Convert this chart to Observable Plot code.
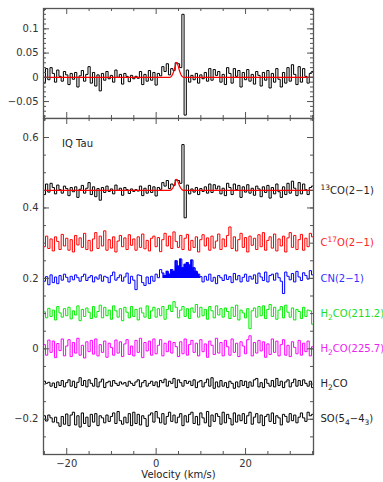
<!DOCTYPE html>
<html><head><meta charset="utf-8">
<script src="https://cdn.jsdelivr.net/npm/d3@7"></script>
<script src="https://cdn.jsdelivr.net/npm/@observablehq/plot@0.6"></script>
<style>
body{margin:0;background:#fff;}
#wrap{position:relative;width:383px;height:482px;overflow:hidden;}
#wrap svg{position:absolute;left:0;background:transparent;}
</style></head><body><div id="wrap"></div><script>
// Channel grid (km/s)
const velocityStart = -25;
const channelWidth = 0.5;

// Spectra, in mK (antenna temperature * 1000), one value per channel
const co13 = [
 -12, 18, -5, 20, 8, -10, 15, 2, -8, 12,
 5, -15, 8, -4, 10, -20, 3, 14, -8, 6,
 22, -12, 10, -18, 5, -28, 8, -6, 12, -3,
 4, -10, 15, 0, 6, -14, 8, 2, -9, 4,
 -3, 2, -2, 12, -15, 6, -8, 14, -6, 10,
 -16, 8, 3, 22, 12, 28, 5, 18, 14, 30,
 28, 20, 130, -78, 15, -10, 4, -5, 8, -12,
 5, -3, 10, -8, 18, -6, 16, 4, 12, -10,
 6, -15, 20, 8, -12, 18, 2, 14, -20, 10,
 -5, 16, -8, 6, -14, 12, 4, -18, 10, -6,
 14, -22, 8, -10, 18, -4, -20, 10, -12, 20,
 -8, 26, 6, -15, 22, -10, 18, 2, -12, 8,
 12];
const c17o = [
 -10, 20, -15, 12, -22, 18, 5, -18, 25, -8,
 14, -20, 10, -25, 22, -5, 15, -12, 28, -18,
 8, -22, 12, 30, -15, 20, -8, 35, -20, 10,
 -14, 18, -25, 6, 22, -10, 15, -18, 24, -6,
 12, -20, 18, -12, 26, -16, 8, -22, 14, 20,
 -10, 16, -24, 10, 28, -8, 20, -15, 32, 5,
 -12, 22, -18, 14, 25, -20, 8, -12, 18, -25,
 10, 24, -8, 15, -20, 20, -14, 6, 26, -18,
 12, -10, 22, 46, -15, 18, -22, 10, 28, -12,
 16, -25, 20, -6, 14, -18, 24, -10, 30, -20,
 8, 18, -14, 26, -22, 12, -8, 20, -25, 15,
 30, -12, 22, -18, 10, 25, -20, 14, -10, 28,
 18];
const cn = [
 -8, 5, -18, 10, -12, 4, -15, 8, -5, 12,
 3, -10, 6, -4, 10, 2, -8, 5, 12, -6,
 3, 8, -10, 4, -2, 10, -8, 6, 3, -12,
 8, 18, -5, 2, 10, -8, 4, 15, -14, 6,
 -5, -32, 10, 8, -12, -20, 4, -15, 6, -8,
 12, 2, 25, 15, 8, 20, 12, 25, 20, 50,
 35, 55, 30, 40, 45, 38, 52, 30, 20, 12,
 5, -10, 6, -5, 12, -8, 3, -15, 8, 2,
 -6, 10, -3, 5, -12, 14, -4, 8, -10, 3,
 12, -8, 6, -2, 10, -14, 15, 4, -6, 18,
 -10, 8, 12, -5, 15, 2, -8, -43, 18, 6,
 -4, 14, -10, 20, 4, -6, 16, 8, -2, 22,
 10];
const h2co211 = [
 5, -12, 15, -8, 10, -18, 20, 2, -10, 14,
 -6, 18, -15, 8, -4, 22, -20, 12, -8, 16,
 4, -14, 20, -10, 6, 24, -12, 18, -6, 10,
 -16, 22, 8, -10, 14, -20, 18, 4, -12, 20,
 -8, 12, -18, 16, 2, -10, 22, -14, 8, 18,
 -10, 14, -6, 20, -16, 12, 24, 6, 34, 18,
 -12, 10, 20, -8, 14, -14, 16, 4, 26, -10,
 18, -6, 12, -16, 20, 8, -12, 22, -4, 14,
 -10, 16, 6, -14, 18, -8, 24, -18, 10, 2,
 -12, 14, -43, 8, 16, -10, 20, -6, 22, -14,
 12, 26, -8, 18, -16, 10, 20, -12, 24, 4,
 -10, 16, -18, 12, 6, -14, 18, -8, 10, 8,
 -30];
const h2co225 = [
 12, -18, 25, -10, 22, -25, 15, -5, 28, -20,
 8, 26, -22, 18, -12, 30, -18, 10, -26, 20,
 -8, 24, -15, 28, -20, 12, -10, 22, -24, 16,
 4, -18, 25, -12, 20, -22, 14, 26, -16, 8,
 -20, 24, -10, 30, -25, 18, -6, 22, -18, 28,
 -14, 10, 26, -20, 16, -8, 22, -12, 18, 6,
 -22, 20, -14, 28, -18, 12, 24, -10, 16, -20,
 26, -8, 14, -24, 22, 10, -16, 30, -12, 18,
 -20, 24, 6, -18, 28, -10, 16, -22, 20, 8,
 -14, 26, 37, -20, 18, -12, 24, -6, 20, -24,
 14, -16, 28, -10, 22, -20, 12, 26, -18, 10,
 -22, 20, 4, -14, 24, -18, 16, -8, 22, -20,
 6];
const h2co = [
 8, 2, 5, -6, 3, -10, 6, -4, 10, -8,
 4, 12, -6, 8, -10, 5, 18, -4, 10, -8,
 12, 2, -6, 16, -8, 6, 14, -10, 4, 8,
 -6, 10, 2, -4, 6, 0, 4, -6, 8, 2,
 -4, 6, 12, -8, 4, 10, -6, 2, 8, -4,
 6, -8, 10, 4, 14, -6, 8, 2, 16, -10,
 12, 4, -6, 10, 2, 8, -4, 12, -10, 6,
 10, -8, 4, 14, -6, 18, -12, 6, -8, 10,
 -6, 4, -10, 8, 2, -12, 6, -8, 10, -4,
 8, -10, 6, -6, 12, 16, -8, 4, -10, 14,
 2, -6, 10, -8, 16, -4, 8, -10, 6, 12,
 -8, 4, 14, -6, 10, -4, 12, 2, -6, 8,
 -10];
const so = [
 10, -5, 12, 4, -8, 6, -10, -20, 8, -14,
 15, -18, 12, 20, -16, 10, -22, 18, -12, 6,
 -20, 14, -8, 16, -18, 10, 4, -10, 12, -6,
 8, 18, -12, 22, -4, -14, 6, -10, 16, -18,
 20, -12, 14, -16, 10, 2, -20, 12, 18, -8,
 22, 4, -10, 16, -14, 8, 20, -6, 12, -10,
 6, 16, -18, 10, -8, 14, 20, -12, 8, -16,
 18, 4, -10, 22, -20, 12, -6, 16, 8, -14,
 20, -10, 14, 2, -16, 18, -8, 12, -4, 16,
 -12, 10, 20, -14, 6, 16, -10, 12, -18, 8,
 14, -6, 18, -12, 10, 4, -16, 14, 8, -8,
 16, -4, 12, -10, 6, 18, 4, -6, 20, 10,
 14];

// Gaussian fit to the 13CO line (km/s, K)
const modelV = [-25, 3.0, 3.5, 4.0, 4.3, 4.6, 4.9, 5.2, 5.7, 6.2, 35];
const modelT = [0, 0, 0.003, 0.014, 0.024, 0.031, 0.024, 0.014, 0.003, 0, 0];

// CN emission range that is shaded (km/s)
const cnFillRange = [1.5, 10];

// Spectrum names, vertical offsets (K), colours
const names   = ["\u00b9\u00b3CO(2\u22121)", "C\u00b9\u2077O(2\u22121)", "CN(2\u22121)", "H\u2082CO(211.2)", "H\u2082CO(225.7)", "H\u2082CO", "SO(5\u2084\u22124\u2083)"];
const series  = [co13, c17o, cn, h2co211, h2co225, h2co, so];
const offsets = [0.45, 0.30, 0.2, 0.1, 0, -0.1, -0.2];
const colors  = ["#000", "#ff0000", "#0000ff", "#00ee00", "#ff00ff", "#000", "#000"];
const labelColors = ["#222", "#ff2020", "#3030ff", "#20dd20", "#ee22ee", "#222", "#222"];

// Axis ticks
const xMajor = [-20, 0, 20];
const xMinor = [-25, -15, -10, -5, 5, 10, 15, 25, 30, 35];
const topYMajor = [-0.05, 0, 0.05, 0.1];
const botYMajor = [-0.2, 0, 0.2, 0.4, 0.6];

// ---------------------------------------------------------------
const xDomain = [-25.2, 35.2];
const W = 383, ML = 43, MR = 70;
const innerW = W - ML - MR;
const axisColor = "#555";
const fontStyle = {fontFamily: "DejaVu Sans, sans-serif", fontSize: "10px", color: "#333", background: "transparent"};
const fmt = d => String(d).replace("-", "\u2212");

function vel(i) { return velocityStart + i * channelWidth; }
function rowsOf(values, offset) { return values.map((t, i) => ({v: vel(i), y: offset + t / 1000})); }

function frameTicks(innerH, yMaj, yMin) {
  return [
    Plot.tickX(xMinor, {x: d => d, insetTop: innerH - 3, stroke: axisColor}),
    Plot.tickX(xMajor, {x: d => d, insetTop: innerH - 6, stroke: axisColor}),
    Plot.tickX(xMinor, {x: d => d, insetBottom: innerH - 3, stroke: axisColor}),
    Plot.tickX(xMajor, {x: d => d, insetBottom: innerH - 6, stroke: axisColor}),
    Plot.tickY(yMin, {y: d => d, insetRight: innerW - 3, stroke: axisColor}),
    Plot.tickY(yMaj, {y: d => d, insetRight: innerW - 6, stroke: axisColor}),
    Plot.tickY(yMin, {y: d => d, insetLeft: innerW - 3, stroke: axisColor}),
    Plot.tickY(yMaj, {y: d => d, insetLeft: innerW - 6, stroke: axisColor})
  ];
}

// Top panel
const topH = 119, topMT = 8, topMB = 1;
const topYMinor = d3.range(-8, 15).map(d => d / 100);
const topPlot = Plot.plot({
  width: W, height: topH, marginTop: topMT, marginBottom: topMB, marginLeft: ML, marginRight: MR,
  style: fontStyle,
  x: {domain: xDomain, axis: null},
  y: {domain: [-0.085, 0.142], axis: null},
  marks: [
    Plot.lineY(rowsOf(co13, 0), {x: "v", y: "y", curve: "step", stroke: "#000", strokeWidth: 1}),
    Plot.line(modelV.map((v, i) => ({v, y: modelT[i]})), {x: "v", y: "y", curve: "monotone-x", stroke: "#ff0000", strokeWidth: 1.2}),
    ...frameTicks(topH - topMT - topMB, topYMajor, topYMinor),
    Plot.axisY({ticks: topYMajor, tickSize: 0, tickPadding: 5, tickFormat: fmt, label: null}),
    Plot.frame({stroke: axisColor, strokeWidth: 1.3})
  ]
});

// Bottom panel
const botTop = 117, botH = 365, botMT = 1, botMB = 28;
const botYMinor = d3.range(-6, 14).map(d => d * 0.05);
const botMarks = [];
series.forEach((vals, k) => {
  const rows = rowsOf(vals, offsets[k]);
  if (k === 2) {
    botMarks.push(Plot.areaY(rows.filter(r => r.v >= cnFillRange[0] && r.v <= cnFillRange[1]),
      {x: "v", y1: offsets[k], y2: "y", curve: "step", fill: colors[k]}));
  }
  botMarks.push(Plot.lineY(rows, {x: "v", y: "y", curve: "step", stroke: colors[k], strokeWidth: 1}));
  if (k === 0) {
    botMarks.push(Plot.line(modelV.map((v, i) => ({v, y: offsets[0] + modelT[i]})), {x: "v", y: "y", curve: "monotone-x", stroke: "#ff0000", strokeWidth: 1.2}));
  }
});
const labelRows = names.map((n, k) => ({n, y: offsets[k], c: labelColors[k]}));
const botPlot = Plot.plot({
  width: W, height: botH, marginTop: botMT, marginBottom: botMB, marginLeft: ML, marginRight: MR,
  style: fontStyle,
  x: {domain: xDomain, axis: null},
  y: {domain: [-0.3, 0.654], axis: null},
  marks: [
    ...botMarks,
    ...frameTicks(botH - botMT - botMB, botYMajor, botYMinor),
    Plot.axisY({ticks: botYMajor, tickSize: 0, tickPadding: 5, tickFormat: fmt, label: null}),
    Plot.axisX({ticks: xMajor, tickSize: 0, tickPadding: 5, tickFormat: fmt, label: null}),
    Plot.text(labelRows, {frameAnchor: "right", y: "y", text: "n", fill: "c", dx: 7, textAnchor: "start"}),
    Plot.text(["IQ Tau"], {x: -21.05, y: 0.581, text: d => d, textAnchor: "start", fill: "#222"}),
    Plot.text(["Velocity (km/s)"], {x: 5, frameAnchor: "bottom", dy: 23, text: d => d, fill: "#222"}),
    Plot.frame({stroke: axisColor, strokeWidth: 1.3})
  ]
});

// Render Unicode super/subscript digits as smaller raised/lowered tspans
const supMap = {"\u2070":"0","\u00b9":"1","\u00b2":"2","\u00b3":"3","\u2074":"4","\u2075":"5","\u2076":"6","\u2077":"7","\u2078":"8","\u2079":"9"};
const subMap = {"\u2080":"0","\u2081":"1","\u2082":"2","\u2083":"3","\u2084":"4","\u2085":"5","\u2086":"6","\u2087":"7","\u2088":"8","\u2089":"9"};
botPlot.querySelectorAll("text").forEach(t => {
  const s = t.textContent;
  if (t.children.length || ![...s].some(c => supMap[c] || subMap[c])) return;
  const runs = [];
  for (const c of s) {
    const kind = supMap[c] ? "sup" : subMap[c] ? "sub" : "n";
    const ch = supMap[c] || subMap[c] || c;
    if (runs.length && runs[runs.length - 1].kind === kind) runs[runs.length - 1].s += ch;
    else runs.push({kind, s: ch});
  }
  t.textContent = "";
  runs.forEach(r => {
    const ts = document.createElementNS("http://www.w3.org/2000/svg", "tspan");
    ts.textContent = r.s;
    if (r.kind !== "n") {
      ts.setAttribute("font-size", "7.5");
      ts.setAttribute("baseline-shift", r.kind === "sup" ? "4" : "-2.5");
    }
    t.appendChild(ts);
  });
});

const wrap = document.getElementById("wrap");
botPlot.style.top = botTop + "px";
topPlot.style.top = "0px";
wrap.appendChild(botPlot);
wrap.appendChild(topPlot);
</script></body></html>
